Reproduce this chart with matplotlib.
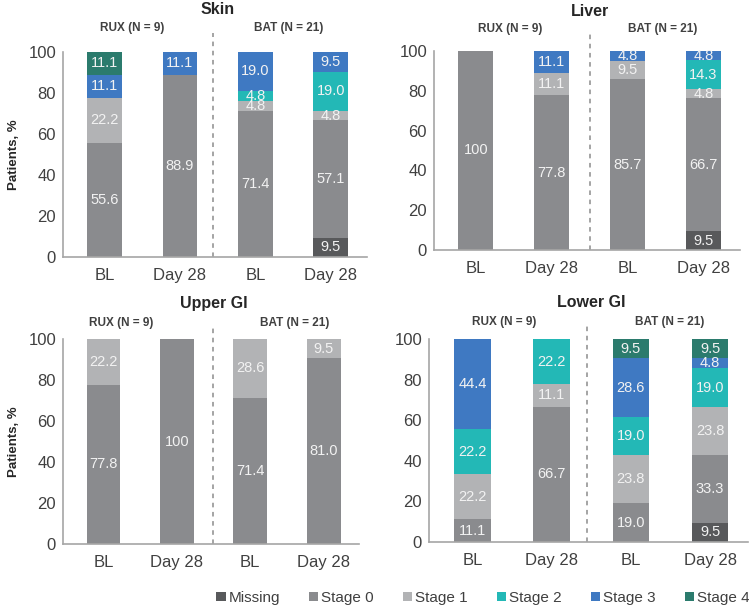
import matplotlib
matplotlib.use("Agg")
import matplotlib.pyplot as plt
import numpy as np
from matplotlib.patches import Patch

plt.rcParams['font.family'] = ['Liberation Sans', 'DejaVu Sans']

stages = ['Missing', 'Stage 0', 'Stage 1', 'Stage 2', 'Stage 3', 'Stage 4']
stage_colors = ['#58595b', '#8a8b8e', '#b2b3b5', '#23b8b6', '#3f79c2', '#2b7b6d']
x_labels = ['BL', 'Day 28', 'BL', 'Day 28']
group_labels = ['RUX (N = 9)', 'BAT (N = 21)']

skin_missing = [0, 0, 0, 9.5]
skin_stage0 = [55.6, 88.9, 71.4, 57.1]
skin_stage1 = [22.2, 0, 4.8, 4.8]
skin_stage2 = [0, 0, 4.8, 19.0]
skin_stage3 = [11.1, 11.1, 19.0, 9.5]
skin_stage4 = [11.1, 0, 0, 0]

liver_missing = [0, 0, 0, 9.5]
liver_stage0 = [100, 77.8, 85.7, 66.7]
liver_stage1 = [0, 11.1, 9.5, 4.8]
liver_stage2 = [0, 0, 0, 14.3]
liver_stage3 = [0, 11.1, 4.8, 4.8]
liver_stage4 = [0, 0, 0, 0]

upper_missing = [0, 0, 0, 9.5]   # shown in Stage 0 colour, unlabelled, in the source
upper_stage0 = [77.8, 100, 71.4, 81.0]
upper_stage1 = [22.2, 0, 28.6, 9.5]
upper_stage2 = [0, 0, 0, 0]
upper_stage3 = [0, 0, 0, 0]
upper_stage4 = [0, 0, 0, 0]

lower_missing = [0, 0, 0, 9.5]
lower_stage0 = [11.1, 66.7, 19.0, 33.3]
lower_stage1 = [22.2, 11.1, 23.8, 23.8]
lower_stage2 = [22.2, 22.2, 19.0, 19.0]
lower_stage3 = [44.4, 0, 28.6, 4.8]
lower_stage4 = [0, 0, 9.5, 9.5]

W, H = 749, 611
fig = plt.figure(figsize=(W / 100, H / 100), dpi=100)

def px_axes(left, right, top, bottom):
    return fig.add_axes([left / W, (H - bottom) / H, (right - left) / W, (bottom - top) / H])

panels = [
    dict(title='Skin', data=[skin_missing, skin_stage0, skin_stage1, skin_stage2, skin_stage3, skin_stage4],
         box=(63, 367, 52, 257), ylabel=True, missing_shown=True, dash=1.44, grp=(0.37, 2.44),
         grp_y=1.115, title_y=1.205),
    dict(title='Liver', data=[liver_missing, liver_stage0, liver_stage1, liver_stage2, liver_stage3, liver_stage4],
         box=(434, 740, 51, 250), ylabel=False, missing_shown=True, dash=1.5, grp=(0.45, 2.46),
         grp_y=1.11, title_y=1.2),
    dict(title='Upper GI', data=[upper_missing, upper_stage0, upper_stage1, upper_stage2, upper_stage3, upper_stage4],
         box=(63, 359, 339, 544), ylabel=True, missing_shown=False, dash=1.49, grp=(0.24, 2.6),
         grp_y=1.08, title_y=1.175),
    dict(title='Lower GI', data=[lower_missing, lower_stage0, lower_stage1, lower_stage2, lower_stage3, lower_stage4],
         box=(429, 748, 339, 542), ylabel=False, missing_shown=True, dash=1.44, grp=(0.4, 2.49),
         grp_y=1.083, title_y=1.18),
]

x = np.arange(len(x_labels))
bw = 0.46
for p in panels:
    ax = px_axes(*p['box'])
    bottoms = np.zeros(len(x))
    vals = [np.array(v, dtype=float) for v in p['data']]
    for si, v in enumerate(vals):
        col = stage_colors[si]
        if si == 0 and not p['missing_shown']:
            col = stage_colors[1]
        ax.bar(x, v, bw, bottom=bottoms, color=col, edgecolor='none', zorder=2)
        for i in range(len(x)):
            if v[i] <= 0:
                continue
            if si == 0 and not p['missing_shown']:
                continue
            b = bottoms[i]
            h = v[i]
            if si == 1 and not p['missing_shown']:
                b = b - vals[0][i]
                h = h + vals[0][i]
            txt = '100' if v[i] >= 100 else f'{v[i]:.1f}'
            ax.text(x[i], b + h / 2, txt, ha='center', va='center', color='#f2f2f2',
                    fontsize=10.5, zorder=3)
        bottoms = bottoms + v
    ax.set_xlim(-0.55, 3.48)
    ax.set_ylim(0, 100)
    ax.set_yticks([0, 20, 40, 60, 80, 100])
    ax.set_xticks(x)
    ax.set_xticklabels(x_labels)
    ax.tick_params(axis='both', length=0, labelsize=12, colors='#404040')
    ax.tick_params(axis='x', pad=8)
    ax.tick_params(axis='y', pad=5)
    for s in ['top', 'right']:
        ax.spines[s].set_visible(False)
    for s in ['left', 'bottom']:
        ax.spines[s].set_color('#a6a6a6')
        ax.spines[s].set_linewidth(1.2)
    ax.plot([p['dash'], p['dash']], [0, p['grp_y'] * 100 - 2], ls=(0, (3, 3)), color='#8c8c8c',
            lw=1.1, clip_on=False, zorder=1)
    tr = ax.get_xaxis_transform()
    ax.text(p['grp'][0], p['grp_y'], group_labels[0], transform=tr, ha='center', va='center',
            fontsize=8.5, fontweight='bold', color='#404040')
    ax.text(p['grp'][1], p['grp_y'], group_labels[1], transform=tr, ha='center', va='center',
            fontsize=8.5, fontweight='bold', color='#404040')
    ax.text(1.5, p['title_y'], p['title'], transform=tr, ha='center', va='center',
            fontsize=11.5, fontweight='bold', color='#262626')
    if p['ylabel']:
        ax.set_ylabel('Patients, %', fontsize=9.5, fontweight='bold', color='#262626', labelpad=6)

handles = [Patch(facecolor=c, edgecolor='none') for c in stage_colors]
fig.legend(handles, stages, loc='center', bbox_to_anchor=(483 / W, 1 - 598 / H), ncol=6,
           frameon=False, fontsize=11, handlelength=0.6, handleheight=0.6, handletextpad=0.2,
           columnspacing=1.9, labelcolor='#404040')

fig.savefig('out.png', dpi=100)
